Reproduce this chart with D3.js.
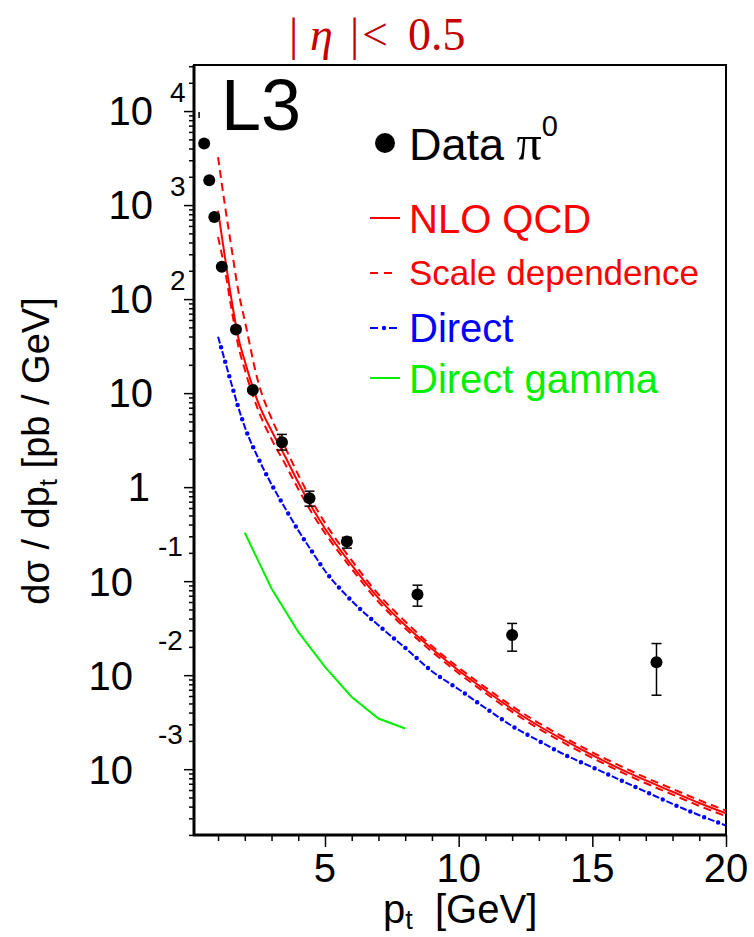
<!DOCTYPE html>
<html><head><meta charset="utf-8">
<script src="https://cdn.jsdelivr.net/npm/d3@7"></script>
<style>body{margin:0;background:#fff}</style>
</head><body>
<svg id="c" width="754" height="937"></svg>
<script>
// ---------- data ----------
const ptData  = [0.48, 0.67, 0.86, 1.14, 1.67, 2.30, 3.39, 4.42, 5.82, 8.46, 12.0, 17.4];
const valData = [4530, 1833, 745, 221, 47.6, 10.8, 3.01, 0.763, 0.264, 0.0723, 0.0267, 0.0137];
const errLo   = [4530, 1833, 745, 221, 47.6, 10.8, 2.48, 0.628, 0.2245, 0.0542, 0.018, 0.00612];
const errHi   = [4530, 1833, 745, 221, 47.6, 10.8, 3.64, 0.906, 0.292, 0.0906, 0.0355, 0.0217];
const stubX = [0.29], stubLo = [8430], stubHi = [9750];

const ptTheory = [1.0,1.25,1.5,1.75,2.0,2.5,3.0,3.5,4.0,4.5,5.0,6,7,8,9,10,11,12,13,14,15,16,17,18,19,20];
const nloCentral = [871,288,100,39.8,21.9,7.94,3.98,2.14,1.12,0.617,0.363,0.148,0.0661,0.0339,0.0191,0.0112,0.00692,0.00437,0.00288,0.00200,0.00141,0.00102,0.000759,0.000575,0.000437,0.000339];
const nloUpper   = [3236,1023,355,126,58.9,13.2,5.37,2.69,1.35,0.724,0.417,0.166,0.0724,0.0372,0.0204,0.0120,0.00741,0.00468,0.00309,0.00214,0.00151,0.00110,0.000813,0.000617,0.000468,0.000363];
const nloLower   = [457,209,79.4,32.4,17.8,6.61,3.24,1.78,0.955,0.537,0.324,0.135,0.0603,0.0316,0.0178,0.0105,0.00646,0.00407,0.00269,0.00186,0.00132,0.000955,0.000708,0.000537,0.000407,0.000316];
const direct     = [39.8,22.4,12.6,7.16,4.37,2.04,1.07,0.603,0.347,0.209,0.129,0.0617,0.0339,0.0195,0.0110,0.00708,0.00447,0.00288,0.00200,0.00141,0.00105,0.000776,0.000575,0.000427,0.000324,0.000251];
const ptGamma  = [2,3,4,5,6,7,8];
const directGamma = [0.327,0.0835,0.0289,0.01226,0.00587,0.00346,0.00271];

const xMajor = [5,10,15,20];
const xMinor = [1,2,3,4,6,7,8,9,11,12,13,14,16,17,18,19];
const yExps = [-3,-2,-1,0,1,2,3,4];
const xDomain = [0.1, 20];
const yDomain = [Math.pow(10,-3.70), Math.pow(10,4.49)];

// ---------- layout ----------
const L = 194, R = 726, T = 65, B = 835;
const svg = d3.select('#c');
const FONT = '"Liberation Sans", Arial, sans-serif';
const SERIF = '"Liberation Serif","DejaVu Serif",serif';
const x = d3.scaleLinear().domain(xDomain).range([L, R]);
const y = d3.scaleLog().domain(yDomain).range([B, T]);

// minor y ticks
const yMinor = [];
for (let e = -4; e <= 4; e++) for (let m = 2; m <= 9; m++) {
  const v = m * Math.pow(10, e);
  if (v >= yDomain[0] && v <= yDomain[1]) yMinor.push(v);
}
const yMajor = yExps.map(e => Math.pow(10, e));

// axes ticks (outward)
function ticks(axis, tr) {
  svg.append('g').attr('transform', tr).call(axis).call(g=>g.select('.domain').remove())
    .selectAll('line').attr('stroke','#000').attr('stroke-width',1.5);
}
ticks(d3.axisBottom(x).tickValues(xMajor).tickSize(12).tickFormat(''), `translate(0,${B})`);
ticks(d3.axisBottom(x).tickValues(xMinor).tickSize(6).tickFormat(''), `translate(0,${B})`);
ticks(d3.axisLeft(y).tickValues(yMajor).tickSize(10).tickFormat(''), `translate(${L},0)`);
ticks(d3.axisLeft(y).tickValues(yMinor).tickSize(5).tickFormat(''), `translate(${L},0)`);

// frame
svg.append('rect').attr('x',L).attr('y',T).attr('width',R-L).attr('height',B-T)
  .attr('fill','none').attr('stroke','#000').attr('stroke-width',2);
svg.append('line').attr('x1',L).attr('x2',L).attr('y1',T).attr('y2',B+1).attr('stroke','#000').attr('stroke-width',3);
svg.append('line').attr('x1',L-1).attr('x2',R+1).attr('y1',B).attr('y2',B).attr('stroke','#000').attr('stroke-width',3);

// x tick labels
svg.append('g').selectAll('text').data(xMajor).join('text')
  .attr('x', d => x(d)).attr('y', 882).attr('text-anchor','middle')
  .attr('font-family',FONT).attr('font-size',40).text(d => d);

// y tick labels
const yl = svg.append('g').attr('font-family',FONT);
yExps.forEach(e => {
  const ty = y(Math.pow(10,e));
  if (e === 0) {
    yl.append('text').attr('x',150).attr('y',ty+14).attr('text-anchor','end').attr('font-size',40).text('1');
  } else if (e === 1) {
    yl.append('text').attr('x',153).attr('y',ty+14).attr('text-anchor','end').attr('font-size',40).text('10');
  } else if (e > 1) {
    yl.append('text').attr('x',153).attr('y',ty+14).attr('text-anchor','end').attr('font-size',40).text('10');
    yl.append('text').attr('x',170).attr('y',ty-9).attr('font-size',28).text(e);
  } else {
    yl.append('text').attr('x',133).attr('y',ty+15).attr('text-anchor','end').attr('font-size',40).text('10');
    yl.append('text').attr('x',158).attr('y',ty-25).attr('font-size',28).text('-' + (-e));
  }
});

// axis titles
const xt = svg.append('text').attr('x',383).attr('y',923).attr('font-family',FONT).attr('font-size',40);
xt.append('tspan').text('p');
xt.append('tspan').attr('font-size',27).attr('dy',6).text('t');
xt.append('tspan').attr('dy',-6).text('\u00a0 [GeV]');

const ytit = svg.append('text').attr('transform','translate(49,451) rotate(-90)').attr('text-anchor','middle')
  .attr('font-family',FONT).attr('font-size',38);
ytit.append('tspan').text('d\u03c3 / dp');
ytit.append('tspan').attr('font-size',26).attr('dy',8).text('t');
ytit.append('tspan').attr('dy',-8).text(' [pb / GeV]');

// title
const tg = svg.append('g').attr('font-family',SERIF).attr('font-size',46).attr('fill','#c40000');
tg.append('text').attr('x',289).attr('y',50).text('|');
tg.append('text').attr('x',310).attr('y',50).attr('font-style','italic').text('\u03b7');
tg.append('text').attr('x',350).attr('y',50).text('|');
tg.append('text').attr('x',362).attr('y',50).text('<');
tg.append('text').attr('x',408).attr('y',50).text('0.5');

// L3
svg.append('text').attr('x',221).attr('y',130).attr('font-family',FONT).attr('font-size',72).text('L3');

// clip
svg.append('clipPath').attr('id','clip').append('rect').attr('x',L).attr('y',T).attr('width',R-L).attr('height',B-T);
const plot = svg.append('g').attr('clip-path','url(#clip)');

const line = (xs, ys) => d3.line().x((d,i)=>x(xs[i])).y((d,i)=>y(ys[i])).curve(d3.curveMonotoneX)(ys);

// theory curves
plot.append('path').attr('d', line(ptTheory, nloUpper)).attr('fill','none').attr('stroke','#ff0000').attr('stroke-width',2).attr('stroke-dasharray','8,5');
plot.append('path').attr('d', line(ptTheory, nloLower)).attr('fill','none').attr('stroke','#ff0000').attr('stroke-width',2).attr('stroke-dasharray','8,5');
plot.append('path').attr('d', line(ptTheory, nloCentral)).attr('fill','none').attr('stroke','#ff0000').attr('stroke-width',2);
plot.append('path').attr('d', line(ptTheory, direct)).attr('fill','none').attr('stroke','#0000ff').attr('stroke-width',2).attr('stroke-dasharray','7,8');
plot.append('path').attr('d', line(ptTheory, direct)).attr('fill','none').attr('stroke','#0000ff').attr('stroke-width',4.5).attr('stroke-linecap','round').attr('stroke-dasharray','0,15').attr('stroke-dashoffset',4);
plot.append('path').attr('d', d3.line().x((d,i)=>x(ptGamma[i])).y(d=>y(d))(directGamma)).attr('fill','none').attr('stroke','#00f000').attr('stroke-width',2);

// data error bars
const eb = plot.append('g').attr('stroke','#000').attr('stroke-width',1.5);
ptData.forEach((p,i) => {
  if (errHi[i] > valData[i]) {
    const cx = x(p);
    eb.append('line').attr('x1',cx).attr('x2',cx).attr('y1',y(errHi[i])).attr('y2',y(errLo[i]));
    eb.append('line').attr('x1',cx-5).attr('x2',cx+5).attr('y1',y(errHi[i])).attr('y2',y(errHi[i]));
    eb.append('line').attr('x1',cx-5).attr('x2',cx+5).attr('y1',y(errLo[i])).attr('y2',y(errLo[i]));
  }
});
stubX.forEach((p,i) => {
  eb.append('line').attr('x1',x(p)).attr('x2',x(p)).attr('y1',y(stubHi[i])).attr('y2',y(stubLo[i]));
});
plot.append('g').selectAll('circle').data(valData).join('circle')
  .attr('cx',(d,i)=>x(ptData[i])).attr('cy',d=>y(d)).attr('r',6).attr('fill','#000');

// legend
const lg = svg.append('g').attr('font-family',FONT);
lg.append('circle').attr('cx',385).attr('cy',143).attr('r',10).attr('fill','#000');
const dt = lg.append('text').attr('x',409).attr('y',160).attr('font-size',45);
dt.append('tspan').text('Data ');
dt.append('tspan').attr('font-family',SERIF).attr('font-size',50).text('\u03c0');
dt.append('tspan').attr('font-size',29).attr('dy',-24).text('0');

lg.append('line').attr('x1',370).attr('x2',400).attr('y1',218).attr('y2',218).attr('stroke','#ff0000').attr('stroke-width',2);
lg.append('text').attr('x',409).attr('y',233).attr('font-size',40).attr('fill','#ff0000').text('NLO QCD');
lg.append('line').attr('x1',370).attr('x2',398).attr('y1',273).attr('y2',273).attr('stroke','#ff0000').attr('stroke-width',2).attr('stroke-dasharray','8,6');
lg.append('text').attr('x',409).attr('y',285).attr('font-size',35).attr('fill','#ff0000').text('Scale dependence');
lg.append('line').attr('x1',370).attr('x2',398).attr('y1',328).attr('y2',328).attr('stroke','#0000ff').attr('stroke-width',2).attr('stroke-dasharray','8,4,3,4');
lg.append('circle').attr('cx',384).attr('cy',328).attr('r',2.2).attr('fill','#0000ff');
lg.append('text').attr('x',409).attr('y',342).attr('font-size',40).attr('fill','#0000ff').text('Direct');
lg.append('line').attr('x1',370).attr('x2',400).attr('y1',378).attr('y2',378).attr('stroke','#00f000').attr('stroke-width',2);
lg.append('text').attr('x',409).attr('y',393).attr('font-size',40).attr('fill','#00f000').text('Direct gamma');
</script>
</body></html>
